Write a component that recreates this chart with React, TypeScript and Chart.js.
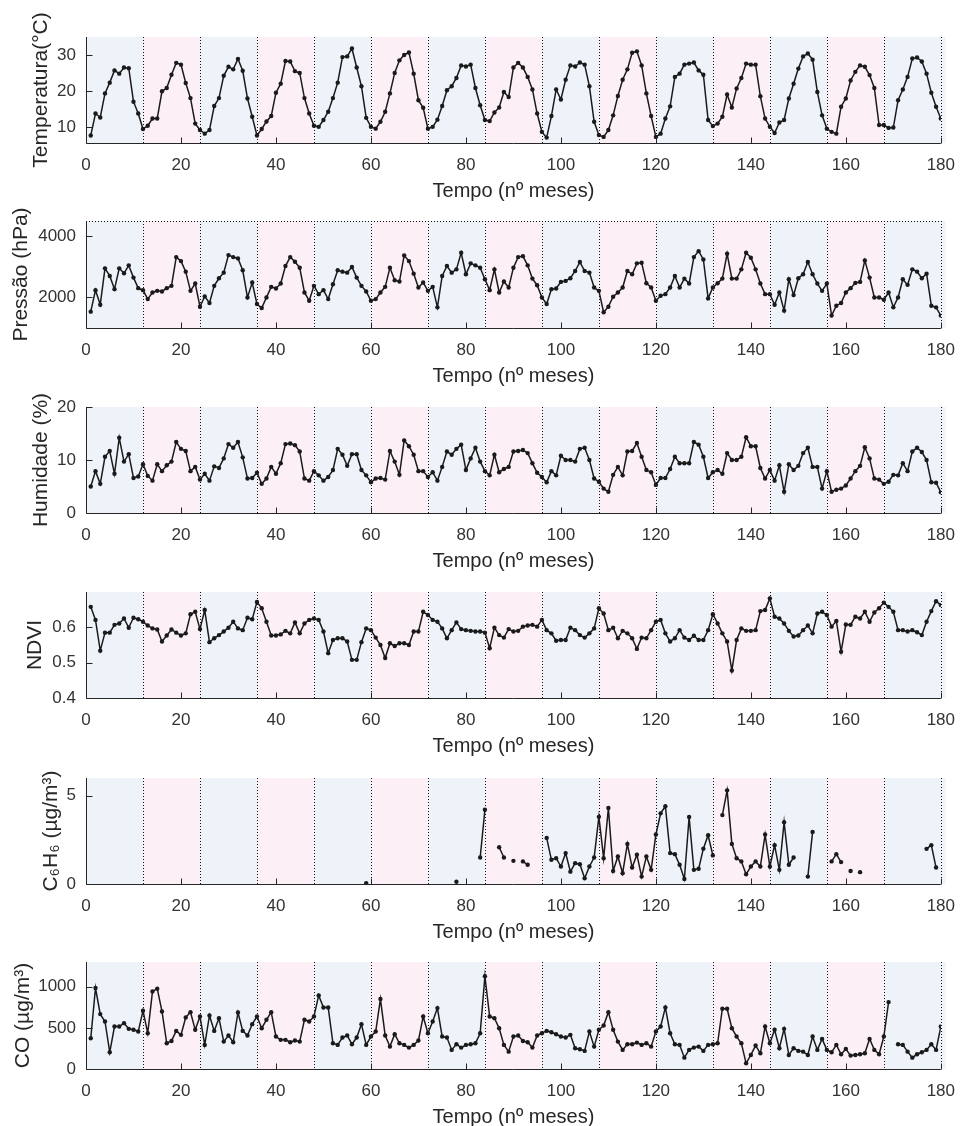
import React, { useEffect, useRef } from "react";
import { Chart, registerables } from "chart.js";

Chart.register(...registerables);

// ---------------- DATA ----------------
const months: number[] = Array.from({ length: 180 }, (_, i) => i + 1);

const xTicks = [0, 20, 40, 60, 80, 100, 120, 140, 160, 180];

const temperatura = [
  7.6, 13.7, 12.6, 19.3, 22.3, 25.7, 24.8, 26.5, 26.3, 17.0, 13.7, 9.4,
  10.3, 12.3, 12.3, 19.9, 20.8, 24.5, 27.8, 27.3, 22.2, 18.0, 10.9, 9.1,
  8.1, 9.1, 15.8, 18.0, 24.2, 26.7, 26.0, 28.9, 25.6, 17.9, 12.8, 7.6,
  9.4, 11.5, 13.0, 19.5, 22.0, 28.3, 28.2, 25.5, 25.0, 18.0, 13.7, 10.3,
  10.0, 11.9, 14.2, 18.0, 22.3, 29.4, 29.6, 31.8, 26.5, 21.3, 12.5, 10.0,
  9.5, 11.4, 14.2, 19.3, 25.0, 28.5, 30.0, 30.7, 24.8, 17.4, 15.3, 9.5,
  10.0, 12.0, 15.8, 20.2, 21.3, 23.6, 27.1, 26.8, 27.3, 20.8, 16.0, 11.9,
  11.6, 14.0, 15.4, 19.7, 18.3, 26.5, 27.8, 26.5, 23.9, 20.4, 13.7, 8.6,
  7.0, 13.0, 20.4, 17.6, 23.1, 27.1, 26.8, 27.9, 27.3, 21.3, 11.4, 7.7,
  7.2, 9.1, 13.2, 18.6, 23.1, 26.0, 30.6, 31.0, 27.1, 19.3, 13.0, 7.2,
  8.1, 12.3, 15.7, 23.9, 24.8, 27.3, 27.6, 27.9, 25.7, 24.5, 11.9, 10.2,
  10.9, 12.8, 19.0, 15.4, 20.7, 23.6, 27.6, 27.3, 27.3, 18.5, 12.3, 10.0,
  8.3, 11.2, 11.9, 17.9, 22.0, 26.2, 29.6, 30.4, 28.7, 19.7, 13.2, 9.5,
  8.6, 8.1, 15.6, 17.9, 22.9, 25.3, 27.1, 26.7, 24.4, 20.8, 10.5, 10.5,
  9.7, 9.8, 17.4, 20.4, 23.9, 29.0, 29.3, 28.2, 24.8, 19.5, 15.6, 12.3,
];
const tempTicks = [10, 20, 30];

const pressao = [
  1535, 2238, 1762, 2951, 2703, 2270, 2951, 2789, 3049, 2649, 2303, 2238,
  1946, 2162, 2216, 2195, 2303, 2378, 3319, 3189, 2843, 2216, 2454, 1697,
  2033, 1816, 2378, 2627, 2811, 3384, 3319, 3276, 2887, 2000, 2486, 1784,
  1654, 2000, 2346, 2292, 2454, 3027, 3319, 3168, 2973, 2162, 1892, 2378,
  2108, 2238, 1946, 2432, 2887, 2843, 2811, 2995, 2649, 2378, 2195, 1892,
  1946, 2162, 2346, 2973, 2562, 2519, 3373, 3189, 2778, 2324, 2486, 2216,
  2346, 1676, 2703, 3027, 2811, 2919, 3460, 2757, 3114, 3049, 2973, 2595,
  2238, 2919, 2162, 2519, 2324, 2973, 3319, 3351, 3049, 2616, 2400, 2000,
  1784, 2270, 2292, 2508, 2541, 2627, 2865, 3157, 2865, 2811, 2324, 2216,
  1514, 1697, 2022, 2162, 2324, 2865, 2757, 3114, 3135, 2465, 2324, 1892,
  2054, 2108, 2324, 2703, 2324, 2616, 2454, 3319, 3514, 3243, 1968, 2324,
  2465, 2616, 3427, 2616, 2616, 2919, 3460, 3297, 2919, 2454, 2108, 2108,
  1762, 2162, 1568, 2595, 2076, 2627, 2757, 3157, 2757, 2454, 2216, 2454,
  1406, 1730, 1816, 2162, 2303, 2476, 2508, 3211, 2649, 2000, 2000, 1924,
  2162, 1676, 2000, 2595, 2411, 2919, 2843, 2627, 2778, 1730, 1676, 1406,
];
const pressaoTicks = [2000, 4000];

const humidade = [
  5.0, 7.9, 5.5, 10.6, 11.7, 7.4, 14.2, 9.7, 11.1, 6.6, 6.9, 9.2,
  7.0, 6.1, 9.2, 7.9, 9.0, 9.7, 13.4, 12.1, 11.7, 7.9, 8.7, 6.3,
  7.4, 6.1, 8.8, 8.5, 10.3, 13.0, 12.3, 13.4, 10.5, 6.5, 6.6, 7.6,
  5.5, 6.5, 8.7, 7.4, 9.4, 13.0, 13.1, 12.8, 11.6, 6.5, 6.1, 7.9,
  7.1, 6.1, 6.8, 8.1, 12.1, 11.0, 8.9, 11.1, 11.1, 8.1, 7.1, 5.8,
  6.5, 6.6, 6.3, 11.7, 9.7, 7.2, 13.7, 12.6, 11.0, 7.9, 7.9, 6.8,
  7.7, 6.1, 8.7, 11.6, 11.0, 12.1, 12.9, 8.1, 10.3, 12.3, 9.7, 7.9,
  7.1, 11.0, 7.7, 8.3, 8.7, 11.6, 11.7, 11.9, 11.3, 9.4, 7.6, 6.8,
  5.8, 7.9, 7.1, 10.8, 10.0, 10.0, 9.7, 12.1, 12.3, 10.0, 6.5, 5.9,
  4.6, 4.0, 7.2, 8.7, 7.1, 11.6, 11.7, 13.2, 10.6, 8.1, 7.7, 5.3,
  6.6, 6.6, 8.3, 10.6, 9.4, 9.4, 9.4, 13.4, 12.9, 10.6, 6.6, 7.7,
  8.1, 7.4, 11.3, 10.0, 10.0, 10.6, 14.3, 12.6, 12.6, 8.5, 6.5, 8.1,
  6.1, 9.0, 4.0, 9.2, 8.1, 8.9, 11.3, 12.3, 8.7, 8.7, 4.6, 7.9,
  4.0, 4.4, 4.6, 5.2, 6.5, 7.9, 8.9, 12.4, 10.3, 6.5, 6.3, 5.5,
  5.9, 7.2, 7.1, 9.4, 7.9, 11.6, 12.3, 11.5, 10.0, 5.8, 5.7, 3.9,
];
const humidadeTicks = [0, 10, 20];

const ndvi = [
  0.658, 0.621, 0.534, 0.585, 0.585, 0.607, 0.611, 0.625, 0.599, 0.627, 0.623, 0.616,
  0.605, 0.597, 0.594, 0.560, 0.577, 0.594, 0.585, 0.577, 0.583, 0.637, 0.644, 0.595,
  0.649, 0.558, 0.569, 0.578, 0.588, 0.599, 0.616, 0.597, 0.592, 0.627, 0.623, 0.672,
  0.654, 0.616, 0.577, 0.577, 0.580, 0.590, 0.583, 0.614, 0.583, 0.611, 0.621, 0.625,
  0.621, 0.588, 0.527, 0.564, 0.569, 0.569, 0.560, 0.508, 0.508, 0.558, 0.597, 0.592,
  0.571, 0.550, 0.513, 0.555, 0.547, 0.555, 0.555, 0.550, 0.588, 0.588, 0.644, 0.635,
  0.621, 0.616, 0.597, 0.569, 0.592, 0.614, 0.595, 0.592, 0.590, 0.588, 0.588, 0.585,
  0.541, 0.599, 0.578, 0.571, 0.595, 0.588, 0.590, 0.602, 0.605, 0.607, 0.602, 0.621,
  0.592, 0.583, 0.562, 0.564, 0.564, 0.599, 0.592, 0.578, 0.571, 0.583, 0.597, 0.654,
  0.639, 0.592, 0.599, 0.569, 0.590, 0.583, 0.569, 0.539, 0.571, 0.569, 0.592, 0.616,
  0.621, 0.583, 0.560, 0.569, 0.592, 0.571, 0.564, 0.576, 0.564, 0.564, 0.592, 0.637,
  0.611, 0.583, 0.560, 0.478, 0.564, 0.597, 0.590, 0.590, 0.592, 0.646, 0.649, 0.682,
  0.630, 0.625, 0.611, 0.590, 0.574, 0.577, 0.592, 0.605, 0.583, 0.639, 0.644, 0.635,
  0.602, 0.618, 0.531, 0.608, 0.607, 0.630, 0.625, 0.644, 0.616, 0.642, 0.654, 0.670,
  0.658, 0.644, 0.592, 0.592, 0.588, 0.592, 0.586, 0.578, 0.616, 0.646, 0.674, 0.663,
];
const ndviTicks = [0.4, 0.5, 0.6];

const N = null;
const benzeno = [
  N, N, N, N, N, N, N, N, N, N, N, N,
  N, N, N, N, N, N, N, N, N, N, N, N,
  N, N, N, N, N, N, N, N, N, N, N, N,
  N, N, N, N, N, N, N, N, N, N, N, N,
  N, N, N, N, N, N, N, N, N, N, 0.05, N,
  N, N, N, N, N, N, N, N, N, N, N, N,
  N, N, N, N, N, 0.13, N, N, N, N, 1.5, 4.2,
  N, N, 2.08, 1.5, N, 1.31, N, 1.28, 1.09, N, N, N,
  2.61, 1.37, 1.46, 0.99, 1.75, 0.7, 1.18, 1.12, 0.32, 0.99, 1.5, 3.8,
  1.46, 4.3, 0.74, 1.56, 0.61, 2.27, 0.93, 1.66, 0.42, 1.56, 0.8, 2.8,
  4.0, 4.4, 1.75, 1.69, 1.09, 0.28, 3.79, 0.8, 0.86, 2.0, 2.76, 1.62,
  N, 3.9, 5.3, 2.27, 1.46, 1.28, 0.55, 0.99, 1.28, 0.99, 2.8, 0.99,
  2.2, 0.8, 3.5, 1.09, 1.5, N, N, 0.42, 2.95, N, N, N,
  1.28, 1.69, 1.24, N, 0.74, N, 0.67, N, N, N, N, N,
  N, N, N, N, N, N, N, N, 1.99, 2.2, 0.93, N,
];
const benzenoTicks = [0, 5];

const co = [
  374, 984, 667, 577, 203, 516, 516, 557, 488, 476, 455, 707,
  435, 943, 976, 699, 313, 341, 463, 415, 626, 691, 476, 638,
  293, 650, 463, 618, 333, 407, 325, 687, 463, 407, 545, 638,
  496, 598, 691, 394, 354, 354, 325, 346, 333, 598, 577, 638,
  894, 748, 748, 313, 293, 382, 407, 301, 382, 545, 293, 394,
  455, 850, 407, 272, 423, 313, 293, 260, 293, 346, 638, 435,
  577, 740, 394, 382, 232, 301, 260, 293, 301, 313, 435, 1126,
  638, 618, 496, 293, 211, 394, 407, 341, 325, 260, 407, 435,
  463, 447, 423, 394, 382, 415, 252, 240, 220, 455, 272, 476,
  529, 691, 476, 333, 232, 301, 301, 321, 293, 313, 272, 455,
  516, 748, 435, 301, 293, 138, 232, 260, 272, 220, 293, 301,
  313, 732, 732, 496, 394, 313, 69, 171, 285, 191, 516, 313,
  476, 252, 488, 171, 252, 220, 211, 171, 394, 232, 366, 232,
  203, 293, 179, 244, 163, 171, 179, 191, 366, 232, 179, 394,
  813, N, 301, 293, 211, 138, 179, 203, 232, 301, 232, 516,
];
const coTicks = [0, 500, 1000];

const xTitle = "Tempo (nº meses)";

// ---------------- STYLE / LAYOUT ----------------
const FONT = "'Liberation Sans', Arial, Helvetica, sans-serif";
const BLUE = "rgb(238,243,249)";
const PINK = "rgb(252,240,246)";
const INK = "#262626";
const LINE = "#1a1a1a";
const W = 967;
const PLOT_LEFT = 86;
const PLOT_RIGHT = 950;
const PAD_TOP = 40;
const X_AXIS_H = 60;

type PanelCfg = {
  title: string;
  values: (number | null)[];
  ticks: number[];
  min: number;
  max: number;
  top: number;
  bottom: number;
  titleCenter: number;
  topDotted?: boolean;
};

const panels: PanelCfg[] = [
  { title: "Temperatura(°C)", values: temperatura, ticks: tempTicks, min: 5.5, max: 35, top: 37, bottom: 143, titleCenter: 41 },
  { title: "Pressão (hPa)", values: pressao, ticks: pressaoTicks, min: 1000, max: 4500, top: 221, bottom: 328, titleCenter: 21, topDotted: true },
  { title: "Humidade (%)", values: humidade, ticks: humidadeTicks, min: 0, max: 20, top: 407, bottom: 513, titleCenter: 41 },
  { title: "NDVI", values: ndvi, ticks: ndviTicks, min: 0.4, max: 0.7, top: 592, bottom: 698, titleCenter: 35 },
  { title: "C₆H₆ (µg/m³)", values: benzeno, ticks: benzenoTicks, min: 0, max: 6, top: 778, bottom: 884, titleCenter: 51 },
  { title: "CO (µg/m³)", values: co, ticks: coTicks, min: 0, max: 1300, top: 962, bottom: 1069, titleCenter: 23 },
];

function makeDecor(cfg: PanelCfg) {
  return {
    id: "decor",
    beforeDatasetsDraw(chart: any) {
      const { ctx, chartArea: a, scales } = chart;
      const x = scales.x;
      ctx.save();
      for (let k = 0; k < 15; k++) {
        const x0 = x.getPixelForValue(k * 12);
        const x1 = x.getPixelForValue(k === 14 ? 181 : (k + 1) * 12);
        ctx.fillStyle = k % 2 === 0 ? BLUE : PINK;
        ctx.fillRect(x0, a.top, x1 - x0, a.bottom - a.top);
      }
      ctx.strokeStyle = "#111";
      ctx.lineWidth = 1;
      ctx.setLineDash([1, 2]);
      for (let k = 1; k <= 15; k++) {
        const px = Math.round(x.getPixelForValue(k * 12)) + 0.5;
        ctx.beginPath();
        ctx.moveTo(px, a.top);
        ctx.lineTo(px, a.bottom);
        ctx.stroke();
      }
      if (cfg.topDotted) {
        const py = Math.round(a.top) + 0.5;
        ctx.beginPath();
        ctx.moveTo(a.left, py);
        ctx.lineTo(x.getPixelForValue(180), py);
        ctx.stroke();
      }
      ctx.restore();
    },
    afterDraw(chart: any) {
      const { ctx, chartArea: a, scales } = chart;
      const x = scales.x;
      const y = scales.y;
      ctx.save();
      ctx.strokeStyle = INK;
      ctx.lineWidth = 1;
      ctx.setLineDash([]);
      const lx = Math.round(a.left) + 0.5;
      const by = Math.round(a.bottom) + 0.5;
      ctx.beginPath();
      ctx.moveTo(lx, a.top);
      ctx.lineTo(lx, by);
      ctx.lineTo(x.getPixelForValue(180), by);
      ctx.stroke();
      // inward ticks
      ctx.beginPath();
      for (const v of xTicks) {
        const px = Math.round(x.getPixelForValue(v)) + 0.5;
        ctx.moveTo(px, by);
        ctx.lineTo(px, by - 6);
      }
      for (const v of cfg.ticks) {
        const py = Math.round(y.getPixelForValue(v)) + 0.5;
        ctx.moveTo(lx, py);
        ctx.lineTo(lx + 6, py);
      }
      ctx.stroke();
      ctx.restore();
    },
  };
}

function Panel({ cfg }: { cfg: PanelCfg }) {
  const ref = useRef<HTMLCanvasElement>(null);
  const plotH = cfg.bottom - cfg.top;
  const H = PAD_TOP + plotH + X_AXIS_H;

  useEffect(() => {
    if (!ref.current) return;
    const data = months.map((m, i) => ({ x: m, y: cfg.values[i] }));
    const chart = new Chart(ref.current, {
      type: "line",
      data: {
        datasets: [
          {
            data: data as any,
            borderColor: LINE,
            backgroundColor: LINE,
            borderWidth: 1.5,
            pointRadius: 2.2,
            pointBorderWidth: 0,
            pointBackgroundColor: LINE,
            spanGaps: false,
            tension: 0,
          },
        ],
      },
      options: {
        animation: false,
        responsive: false,
        maintainAspectRatio: false,
        devicePixelRatio: 1,
        layout: { padding: { left: 0, right: W - PLOT_RIGHT, top: PAD_TOP, bottom: 0 } },
        plugins: { legend: { display: false }, tooltip: { enabled: false } },
        scales: {
          x: {
            type: "linear",
            min: 0,
            max: 180,
            grid: { display: false, drawTicks: false },
            border: { display: false },
            afterBuildTicks: (s: any) => {
              s.ticks = xTicks.map((v) => ({ value: v }));
            },
            afterFit: (s: any) => {
              s.height = X_AXIS_H;
            },
            ticks: {
              autoSkip: false,
              maxRotation: 0,
              padding: 12,
              color: "#333",
              font: { family: FONT, size: 17 },
              callback: (v: any) => String(v),
            },
            title: {
              display: true,
              text: xTitle,
              color: "#262626",
              font: { family: FONT, size: 20 },
              padding: { top: 0, bottom: 0 },
            },
          },
          y: {
            type: "linear",
            min: cfg.min,
            max: cfg.max,
            grid: { display: false, drawTicks: false },
            border: { display: false },
            afterBuildTicks: (s: any) => {
              s.ticks = cfg.ticks.map((v) => ({ value: v }));
            },
            afterFit: (s: any) => {
              s.width = PLOT_LEFT;
            },
            ticks: {
              padding: 10,
              color: "#333",
              font: { family: FONT, size: 17 },
              callback: (v: any) => String(v),
            },
            title: {
              display: true,
              text: cfg.title,
              color: "#262626",
              font: { family: FONT, size: 21 },
              padding: { top: cfg.titleCenter - 12.6, bottom: 0 },
            },
          },
        },
      },
      plugins: [makeDecor(cfg)],
    });
    return () => chart.destroy();
  }, []);

  return (
    <canvas
      ref={ref}
      width={W}
      height={H}
      style={{ position: "absolute", left: 0, top: cfg.top - PAD_TOP, width: W, height: H }}
    />
  );
}

export default function App() {
  return (
    <div
      style={{
        position: "absolute",
        left: 0,
        top: 0,
        width: W,
        height: 1126,
        overflow: "hidden",
        background: "#fff",
      }}
    >
      {panels.map((p, i) => (
        <Panel key={i} cfg={p} />
      ))}
    </div>
  );
}
